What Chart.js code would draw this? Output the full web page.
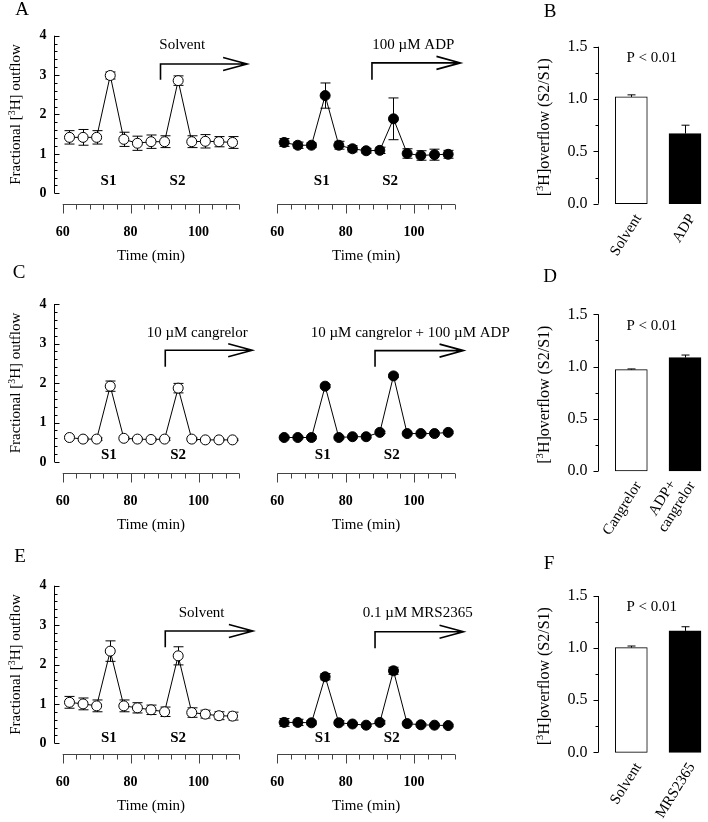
<!DOCTYPE html>
<html>
<head>
<meta charset="utf-8">
<script src="https://cdn.jsdelivr.net/npm/chart.js@4.4.1/dist/chart.umd.min.js"></script>
<style>
  html, body { margin: 0; padding: 0; background: #fff; overflow: hidden; }
  #wrap { position: relative; width: 708px; height: 822px; }
  #wrap canvas { position: absolute; left: 0; top: 0; }
</style>
</head>
<body>
<div id="wrap"></div>
<script>
// sampling times (min)
const minutes = [62, 66, 70, 74, 78, 82, 86, 90, 94, 98, 102, 106, 110];

// A: solvent vs 100 uM ADP
const solventA = [1.42, 1.42, 1.42, 2.99, 1.37, 1.27, 1.31, 1.31, 2.86, 1.31, 1.32, 1.31, 1.29];
const solventAErr = [0.17, 0.2, 0.17, 0.09, 0.18, 0.18, 0.17, 0.15, 0.12, 0.15, 0.17, 0.13, 0.15];
const adpA = [1.29, 1.22, 1.22, 2.48, 1.22, 1.13, 1.08, 1.09, 1.89, 1.01, 0.96, 0.98, 0.99];
const adpAErr = [0.1, 0.08, 0.06, 0.32, 0.1, 0.08, 0.06, 0.08, 0.53, 0.12, 0.12, 0.14, 0.1];

// C: cangrelor vs cangrelor + ADP
const cangrelorC = [0.62, 0.58, 0.58, 1.92, 0.6, 0.58, 0.57, 0.58, 1.87, 0.58, 0.56, 0.56, 0.56];
const cangrelorCErr = [0.03, 0.03, 0.03, 0.13, 0.03, 0.03, 0.03, 0.03, 0.12, 0.03, 0.02, 0.02, 0.02];
const cangAdpC = [0.62, 0.62, 0.62, 1.92, 0.62, 0.64, 0.64, 0.75, 2.18, 0.72, 0.72, 0.72, 0.75];
const cangAdpCErr = [0.03, 0.03, 0.03, 0.04, 0.03, 0.03, 0.03, 0.03, 0.04, 0.03, 0.03, 0.03, 0.03];

// E: solvent vs 0.1 uM MRS2365
const solventE = [1.04, 1.0, 0.95, 2.34, 0.95, 0.9, 0.85, 0.8, 2.22, 0.78, 0.74, 0.7, 0.69];
const solventEErr = [0.15, 0.15, 0.15, 0.26, 0.15, 0.13, 0.12, 0.12, 0.23, 0.12, 0.1, 0.1, 0.1];
const mrsE = [0.53, 0.53, 0.52, 1.69, 0.52, 0.49, 0.46, 0.53, 1.84, 0.5, 0.47, 0.46, 0.45];
const mrsEErr = [0.1, 0.08, 0.05, 0.08, 0.05, 0.03, 0.03, 0.04, 0.09, 0.03, 0.03, 0.03, 0.03];

// S2/S1 ratios
const labelsB = ['Solvent', 'ADP'];
const ratioB = [1.02, 0.67];
const ratioBErr = [0.02, 0.08];
const labelsD = ['Cangrelor', ['ADP+', 'cangrelor']];
const ratioD = [0.97, 1.085];
const ratioDErr = [0.007, 0.025];
const labelsF = ['Solvent', 'MRS2365'];
const ratioF = [1.005, 1.165];
const ratioFErr = [0.015, 0.04];

// axis ticks
const timeTicks = [60, 80, 100];
const timeMinorStep = 4;
const timeRange = [60, 112];
const outflowTicks = [0, 1, 2, 3, 4];
const outflowMinorStep = 0.2;
const ratioTicks = [0.0, 0.5, 1.0, 1.5];
const ratioMinorStep = 0.25;

const W = 708, H = 822;
const SERIF = '"Liberation Serif", "Times New Roman", serif';

// vertical placement of the three rows
const ROWS = [
  { top: 35.7, bottom: 193.3, barTop: 46.7, barBottom: 203.7 },
  { top: 304, bottom: 462, barTop: 314.3, barBottom: 471 },
  { top: 585.7, bottom: 743.3, barTop: 596, barBottom: 752.3 }
];

function makeCanvas() {
  const c = document.createElement('canvas');
  c.width = W; c.height = H;
  c.style.width = W + 'px'; c.style.height = H + 'px';
  document.getElementById('wrap').appendChild(c);
  return c.getContext('2d');
}

function font(size, bold) {
  return (bold ? 'bold ' : '') + size + 'px ' + SERIF;
}

// text with superscripts, centred on (cx, cy), optionally rotated
function richText(ctx, parts, cx, cy, size, rot) {
  ctx.save();
  ctx.translate(cx, cy);
  ctx.rotate(rot);
  ctx.textAlign = 'left';
  ctx.textBaseline = 'alphabetic';
  let w = 0;
  parts.forEach((p) => {
    ctx.font = font(p.sup ? size * 0.66 : size);
    w += ctx.measureText(p.t).width;
  });
  let xx = -w / 2;
  const base = size * 0.33;
  parts.forEach((p) => {
    ctx.font = font(p.sup ? size * 0.66 : size);
    ctx.fillText(p.t, xx, p.sup ? base - size * 0.38 : base);
    xx += ctx.measureText(p.t).width;
  });
  ctx.restore();
}

function drawLetter(ctx, letter) {
  if (!letter) return;
  ctx.font = font(19);
  ctx.textAlign = 'center';
  ctx.textBaseline = 'middle';
  ctx.fillText(letter.t, letter.x, letter.y);
}

function linePanelPlugin(cfg) {
  return {
    id: 'linePanel',
    beforeDatasetsDraw(chart) {
      const { ctx, scales: { y } } = chart;
      const meta = chart.getDatasetMeta(0);
      ctx.save();
      ctx.strokeStyle = '#000';
      ctx.lineWidth = 1;
      meta.data.forEach((pt, i) => {
        const v = cfg.values[i], e = cfg.errors[i];
        const yt = y.getPixelForValue(v + e), yb = y.getPixelForValue(v - e);
        const x = Math.round(pt.x) + 0.5;
        ctx.beginPath();
        ctx.moveTo(x, yt); ctx.lineTo(x, yb);
        ctx.moveTo(x - 5, yt); ctx.lineTo(x + 5, yt);
        ctx.moveTo(x - 5, yb); ctx.lineTo(x + 5, yb);
        ctx.stroke();
      });
      ctx.restore();
    },
    afterDraw(chart) {
      const { ctx, chartArea: a, scales: { x, y } } = chart;
      ctx.save();
      ctx.fillStyle = '#000';

      // offset time axis below the plot
      const ay = Math.round(a.bottom + 10.5) + 0.5;
      const x0 = x.getPixelForValue(timeRange[0]), x1 = x.getPixelForValue(timeRange[1]);
      ctx.strokeStyle = '#444';
      ctx.lineWidth = 1;
      ctx.beginPath();
      ctx.moveTo(x0, ay); ctx.lineTo(x1, ay);
      for (let t = timeRange[0]; t <= timeRange[1]; t += timeMinorStep) {
        const px = Math.round(x.getPixelForValue(t)) + 0.5;
        ctx.moveTo(px, ay);
        ctx.lineTo(px, ay + (timeTicks.includes(t) ? 9 : 5));
      }
      ctx.stroke();
      ctx.font = font(14, true);
      ctx.textAlign = 'center';
      ctx.textBaseline = 'middle';
      timeTicks.forEach((t) => ctx.fillText(String(t), x.getPixelForValue(t), ay + 28));
      ctx.font = font(15);
      ctx.fillText('Time (min)', (x0 + x1) / 2, ay + 52);

      // y axis (left panels only)
      if (cfg.yAxis) {
        const lx = Math.round(a.left) + 0.5;
        const yMax = outflowTicks[outflowTicks.length - 1];
        ctx.strokeStyle = '#000';
        ctx.beginPath();
        ctx.moveTo(lx, y.getPixelForValue(0));
        ctx.lineTo(lx, y.getPixelForValue(yMax));
        for (let k = 0; k <= Math.round(yMax / outflowMinorStep); k++) {
          const v = k * outflowMinorStep;
          const py = Math.round(y.getPixelForValue(v)) + 0.5;
          const major = outflowTicks.some((t) => Math.abs(t - v) < 1e-6);
          ctx.moveTo(lx, py);
          ctx.lineTo(lx + (major ? 5 : 3), py);
        }
        ctx.stroke();
        ctx.font = font(14, true);
        ctx.textAlign = 'right';
        ctx.textBaseline = 'middle';
        outflowTicks.forEach((t) => ctx.fillText(String(t), lx - 8, y.getPixelForValue(t)));
        richText(ctx, [{ t: 'Fractional [' }, { t: '3', sup: true }, { t: 'H] outflow' }],
          lx - 39, (y.getPixelForValue(0) + y.getPixelForValue(yMax)) / 2, 15, -Math.PI / 2);
      }

      // stimulation labels
      ctx.font = font(15, true);
      ctx.textAlign = 'center';
      ctx.textBaseline = 'middle';
      cfg.stims.forEach((s) => ctx.fillText(s.t, x.getPixelForValue(s.x), y.getPixelForValue(s.y)));

      // treatment note and arrow
      ctx.font = font(15);
      ctx.fillText(cfg.note.t, x.getPixelForValue(cfg.note.x), y.getPixelForValue(cfg.note.y));
      const ar = cfg.arrow;
      const vx = x.getPixelForValue(ar.x), ex = x.getPixelForValue(ar.end);
      const ty = y.getPixelForValue(ar.top), by = y.getPixelForValue(ar.bottom);
      ctx.strokeStyle = '#000';
      ctx.lineWidth = 1.6;
      ctx.beginPath();
      ctx.moveTo(vx, by); ctx.lineTo(vx, ty); ctx.lineTo(ex, ty);
      ctx.moveTo(ex - 24, ty - 6.5); ctx.lineTo(ex, ty); ctx.lineTo(ex - 24, ty + 6.5);
      ctx.stroke();

      drawLetter(ctx, cfg.letter);
      ctx.restore();
    }
  };
}

function lineChart(cfg) {
  const ctx = makeCanvas();
  new Chart(ctx, {
    type: 'line',
    data: {
      datasets: [{
        data: minutes.map((m, i) => ({ x: m, y: cfg.values[i] })),
        borderColor: '#000',
        borderWidth: 1,
        pointRadius: 5,
        pointBorderWidth: 1,
        pointBorderColor: '#000',
        pointBackgroundColor: cfg.filled ? '#000' : '#fff',
        tension: 0,
        clip: false
      }]
    },
    options: {
      responsive: false,
      animation: false,
      devicePixelRatio: 1,
      events: [],
      layout: { padding: { left: cfg.left, right: W - cfg.right, top: cfg.row.top, bottom: H - cfg.row.bottom } },
      scales: {
        x: { type: 'linear', display: false, min: cfg.xMin, max: timeRange[1] },
        y: { display: false, min: 0, max: outflowTicks[outflowTicks.length - 1] }
      },
      plugins: { legend: { display: false }, tooltip: { enabled: false } }
    },
    plugins: [linePanelPlugin(cfg)]
  });
}

function barPanelPlugin(cfg) {
  return {
    id: 'barPanel',
    afterDatasetsDraw(chart) {
      const { ctx, scales: { x, y } } = chart;
      ctx.save();
      ctx.strokeStyle = '#000';
      ctx.lineWidth = 1;
      cfg.values.forEach((v, i) => {
        const px = Math.round(x.getPixelForValue(i)) + 0.5;
        const yt = y.getPixelForValue(v + cfg.errors[i]);
        ctx.beginPath();
        ctx.moveTo(px, y.getPixelForValue(v)); ctx.lineTo(px, yt);
        ctx.moveTo(px - 4, yt); ctx.lineTo(px + 4, yt);
        ctx.stroke();
      });
      ctx.restore();
    },
    afterDraw(chart) {
      const { ctx, chartArea: a, scales: { x, y } } = chart;
      ctx.save();
      ctx.fillStyle = '#000';
      ctx.strokeStyle = '#000';
      ctx.lineWidth = 1;
      const lx = Math.round(a.left - 33) + 0.5;
      const yMax = ratioTicks[ratioTicks.length - 1];
      ctx.beginPath();
      ctx.moveTo(lx, y.getPixelForValue(0));
      ctx.lineTo(lx, y.getPixelForValue(yMax));
      for (let k = 0; k <= Math.round(yMax / ratioMinorStep); k++) {
        const v = k * ratioMinorStep;
        const py = Math.round(y.getPixelForValue(v)) + 0.5;
        const major = ratioTicks.some((t) => Math.abs(t - v) < 1e-6);
        ctx.moveTo(lx, py);
        ctx.lineTo(lx - (major ? 5 : 3), py);
      }
      ctx.stroke();
      ctx.font = font(16);
      ctx.textAlign = 'right';
      ctx.textBaseline = 'middle';
      ratioTicks.forEach((t) => ctx.fillText(t.toFixed(1), lx - 11, y.getPixelForValue(t)));
      richText(ctx, [{ t: '[' }, { t: '3', sup: true }, { t: 'H]overflow (S2/S1)' }],
        lx - 55, (y.getPixelForValue(0) + y.getPixelForValue(yMax)) / 2 + 2, 16, -Math.PI / 2);

      // P value
      ctx.font = font(15);
      ctx.textAlign = 'center';
      ctx.fillText('P < 0.01', x.getPixelForValue(0) + (x.getPixelForValue(1) - x.getPixelForValue(0)) * 0.38,
        y.getPixelForValue(1.39));

      // slanted category labels, each block right-aligned at its bar, lines centred within it
      ctx.font = font(15);
      cfg.labels.forEach((lab, i) => {
        const lines = Array.isArray(lab) ? lab : [lab];
        const maxW = Math.max(...lines.map((ln) => ctx.measureText(ln).width));
        ctx.save();
        ctx.translate(x.getPixelForValue(i) + 7, a.bottom + 12);
        ctx.rotate(-58 * Math.PI / 180);
        ctx.textAlign = 'center';
        ctx.textBaseline = 'middle';
        lines.forEach((ln, k) => ctx.fillText(ln, -maxW / 2, (k - (lines.length - 1)) * 17));
        ctx.restore();
      });

      drawLetter(ctx, cfg.letter);
      ctx.restore();
    }
  };
}

function barChart(cfg) {
  const ctx = makeCanvas();
  new Chart(ctx, {
    type: 'bar',
    data: {
      labels: cfg.labels,
      datasets: [{
        data: cfg.values,
        backgroundColor: ['#fff', '#000'],
        borderColor: '#000',
        borderWidth: 1,
        borderSkipped: false,
        barThickness: 32,
        clip: false
      }]
    },
    options: {
      responsive: false,
      animation: false,
      devicePixelRatio: 1,
      events: [],
      layout: { padding: { left: 631.3, right: W - 685, top: cfg.row.barTop, bottom: H - cfg.row.barBottom } },
      scales: {
        x: { display: false, offset: false },
        y: { display: false, min: 0, max: ratioTicks[ratioTicks.length - 1] }
      },
      plugins: { legend: { display: false }, tooltip: { enabled: false } }
    },
    plugins: [barPanelPlugin(cfg)]
  });
}

const LEFT = { left: 54.3, right: 239.3, xMin: 57.53, yAxis: true };
const RIGHT = { left: 277.3, right: 455, xMin: 60, yAxis: false };

// row A
lineChart({ ...LEFT, row: ROWS[0], values: solventA, errors: solventAErr, filled: false,
  letter: { t: 'A', x: 22, y: 10 },
  note: { t: 'Solvent', x: 95.2, y: 3.77 },
  arrow: { x: 88.8, top: 3.28, bottom: 2.88, end: 114.3 },
  stims: [{ t: 'S1', x: 73.5, y: 0.3 }, { t: 'S2', x: 93.8, y: 0.3 }] });
lineChart({ ...RIGHT, row: ROWS[0], values: adpA, errors: adpAErr, filled: true,
  note: { t: '100 µM ADP', x: 99.8, y: 3.77 },
  arrow: { x: 87.7, top: 3.31, bottom: 2.88, end: 113.6 },
  stims: [{ t: 'S1', x: 73.0, y: 0.3 }, { t: 'S2', x: 93.0, y: 0.3 }] });
barChart({ row: ROWS[0], labels: labelsB, values: ratioB, errors: ratioBErr, letter: { t: 'B', x: 550, y: 12 } });

// row C
lineChart({ ...LEFT, row: ROWS[1], values: cangrelorC, errors: cangrelorCErr, filled: false,
  letter: { t: 'C', x: 19, y: 273 },
  note: { t: '10 µM cangrelor', x: 99.6, y: 3.27 },
  arrow: { x: 90.2, top: 2.83, bottom: 2.41, end: 115.8 },
  stims: [{ t: 'S1', x: 73.6, y: 0.18 }, { t: 'S2', x: 94, y: 0.18 }] });
lineChart({ ...RIGHT, row: ROWS[1], values: cangAdpC, errors: cangAdpCErr, filled: true,
  note: { t: '10 µM cangrelor + 100 µM ADP', x: 98.9, y: 3.27 },
  arrow: { x: 88.6, top: 2.82, bottom: 2.41, end: 114.5 },
  stims: [{ t: 'S1', x: 73.3, y: 0.18 }, { t: 'S2', x: 93.5, y: 0.18 }] });
barChart({ row: ROWS[1], labels: labelsD, values: ratioD, errors: ratioDErr, letter: { t: 'D', x: 550, y: 277 } });

// row E
lineChart({ ...LEFT, row: ROWS[2], values: solventE, errors: solventEErr, filled: false,
  letter: { t: 'E', x: 20, y: 557 },
  note: { t: 'Solvent', x: 100.9, y: 3.3 },
  arrow: { x: 90.2, top: 2.85, bottom: 2.44, end: 116 },
  stims: [{ t: 'S1', x: 73.6, y: 0.14 }, { t: 'S2', x: 94, y: 0.14 }] });
lineChart({ ...RIGHT, row: ROWS[2], values: mrsE, errors: mrsEErr, filled: true,
  note: { t: '0.1 µM MRS2365', x: 101.1, y: 3.3 },
  arrow: { x: 88.6, top: 2.83, bottom: 2.41, end: 114.5 },
  stims: [{ t: 'S1', x: 73.3, y: 0.14 }, { t: 'S2', x: 93.5, y: 0.14 }] });
barChart({ row: ROWS[2], labels: labelsF, values: ratioF, errors: ratioFErr, letter: { t: 'F', x: 549, y: 564 } });
</script>
</body>
</html>
